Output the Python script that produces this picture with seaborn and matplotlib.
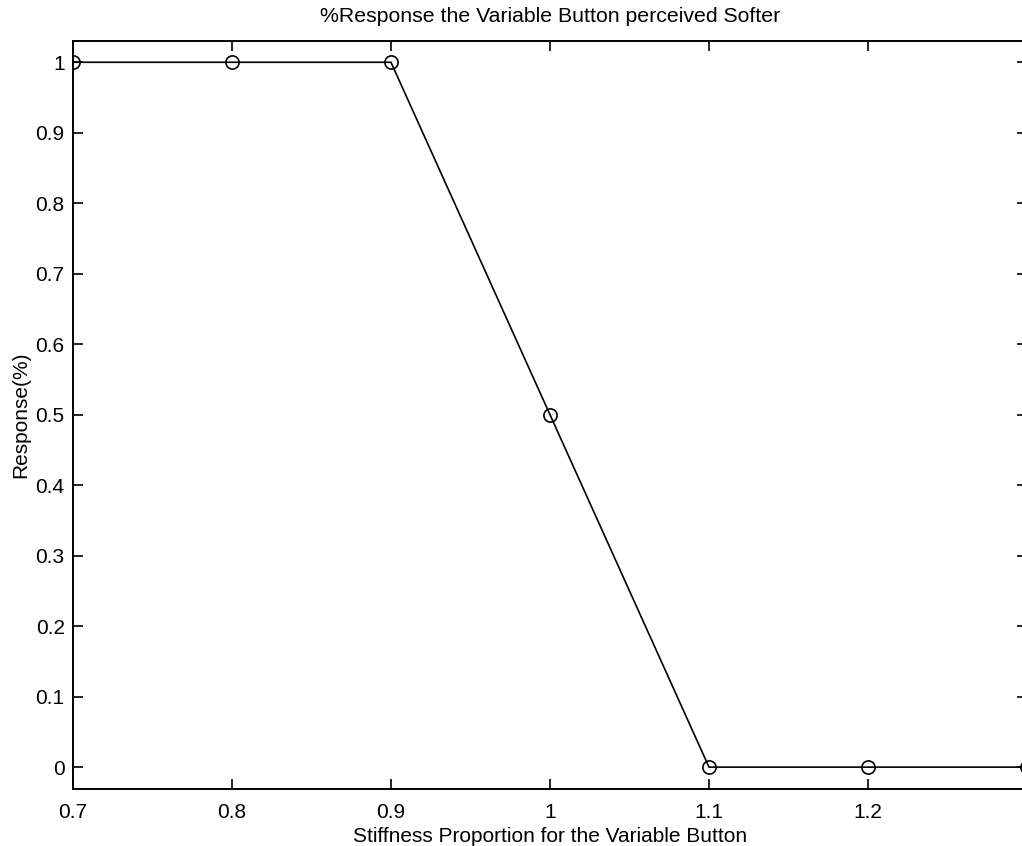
import matplotlib
matplotlib.use("Agg")
import matplotlib.pyplot as plt
import pandas as pd
import seaborn as sns

stiffness = [0.7, 0.8, 0.9, 1.0, 1.1, 1.2, 1.3]
response = [1.0, 1.0, 1.0, 0.5, 0.0, 0.0, 0.0]
x_ticks = [0.7, 0.8, 0.9, 1.0, 1.1, 1.2]
y_ticks = [0, 0.1, 0.2, 0.3, 0.4, 0.5, 0.6, 0.7, 0.8, 0.9, 1.0]

sns.set_style("ticks")
plt.rcParams["font.family"] = ["Liberation Sans", "DejaVu Sans"]
plt.rcParams["text.color"] = "black"
plt.rcParams["axes.labelcolor"] = "black"

df = pd.DataFrame({"stiffness": stiffness, "response": response})

fig = plt.figure(figsize=(10.22, 8.46), dpi=100)
ax = fig.add_axes([0.0714, 0.0674, 0.9335, 0.884])

sns.lineplot(
    data=df, x="stiffness", y="response", ax=ax,
    color="black", linewidth=1.2, marker="o", markersize=9.5,
    markerfacecolor="none", markeredgecolor="black", markeredgewidth=1.2,
)

ax.set_xlim(0.7, 1.3)
ax.set_ylim(-0.031, 1.03)
ax.set_xticks(x_ticks)
ax.set_xticklabels([f"{v:g}" for v in x_ticks])
ax.set_yticks(y_ticks)
ax.set_yticklabels([f"{v:g}" for v in y_ticks])
ax.tick_params(direction="in", length=7, width=1.2, labelsize=15, colors="black",
               top=True, right=True)
ax.tick_params(axis="x", pad=10)
ax.tick_params(axis="y", pad=6)
for s in ax.spines.values():
    s.set_visible(True)
    s.set_linewidth(1.4)
    s.set_color("black")

ax.set_title("%Response the Variable Button perceived Softer", fontsize=15.3, pad=14,
             color="black")
ax.set_xlabel("Stiffness Proportion for the Variable Button", fontsize=15, labelpad=4,
              color="black")
ax.set_ylabel("Response(%)", fontsize=15, labelpad=4, color="black")

fig.savefig("out.png", dpi=100)
